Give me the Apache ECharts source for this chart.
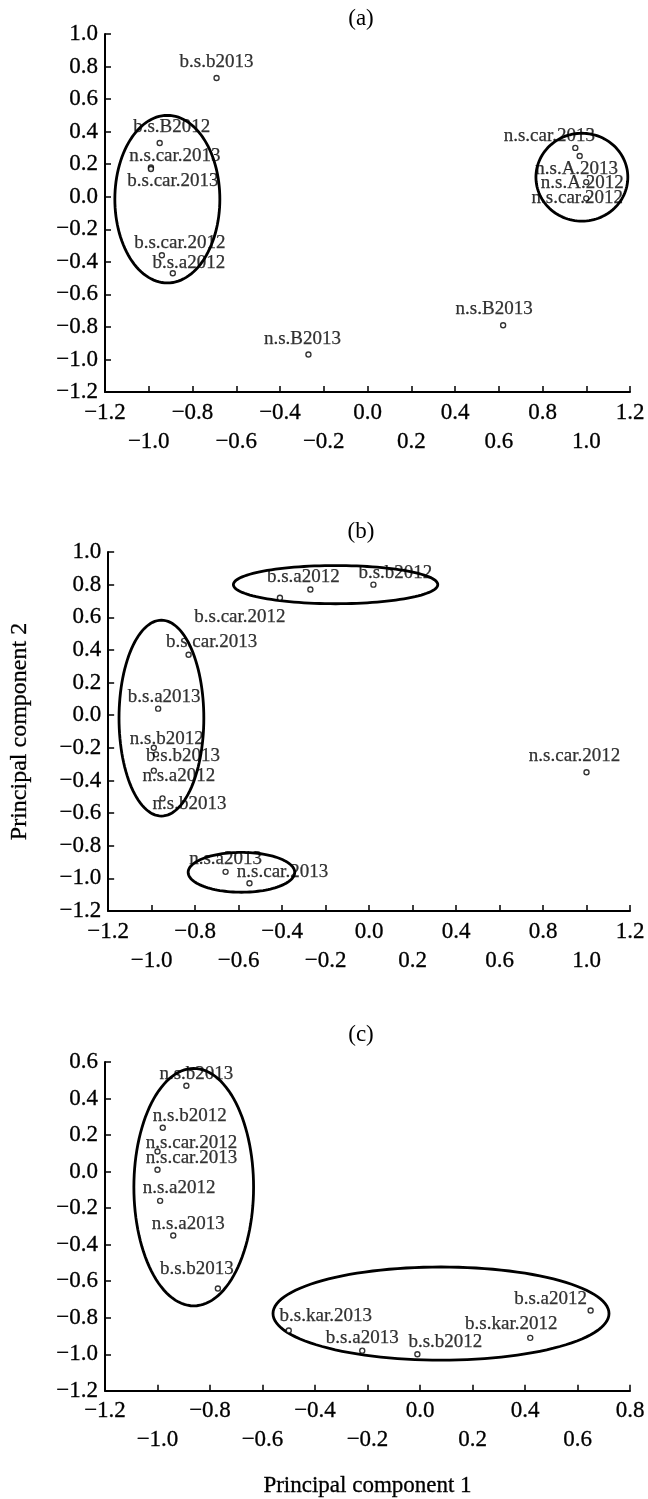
<!DOCTYPE html>
<html><head><meta charset="utf-8">
<script src="https://cdn.jsdelivr.net/npm/echarts@6/dist/echarts.min.js"></script>
<style>html,body{margin:0;padding:0;background:#fff}#c{width:648px;height:1499px}</style>
</head><body><div id="c"></div>
<script>
// ---------- Panel (a) ----------
const namesA = ['b.s.b2013','b.s.B2012','n.s.car.2013','b.s.car.2013','b.s.car.2012','b.s.a2012','n.s.B2013','n.s.B2013','n.s.car.2013','n.s.A.2013','n.s.A.2012','n.s.car.2012'];
const xA = [-0.69,-0.95,-0.99,-0.99,-0.94,-0.89,-0.27,0.62,0.95,0.97,1.00,1.00];
const yA = [0.73,0.33,0.18,0.17,-0.36,-0.47,-0.97,-0.79,0.30,0.25,0.09,-0.01];
const ellCxA = [-0.915, 0.98];
const ellCyA = [-0.015, 0.12];
const ellRxA = [0.24, 0.21];
const ellRyA = [0.515, 0.27];
const xTickLabelsA = ['−1.2','−1.0','−0.8','−0.6','−0.4','−0.2','0.0','0.2','0.4','0.6','0.8','1.0','1.2'];
const yTickLabelsA = ['−1.2','−1.0','−0.8','−0.6','−0.4','−0.2','0.0','0.2','0.4','0.6','0.8','1.0'];

// ---------- Panel (b) ----------
const namesB = ['b.s.a2012','b.s.b2012','b.s.car.2012','b.s.car.2013','b.s.a2013','n.s.b2012','b.s.b2013','n.s.a2012','n.s.b2013','n.s.car.2012','n.s.a2013','n.s.car.2013'];
const xB = [-0.27,0.02,-0.41,-0.83,-0.97,-0.99,-0.98,-0.99,-0.95,1.00,-0.66,-0.55];
const yB = [0.77,0.80,0.72,0.37,0.04,-0.20,-0.24,-0.34,-0.51,-0.35,-0.96,-1.03];
const ellCxB = [-0.154,-0.955,-0.587];
const ellCyB = [0.80,-0.018,-0.963];
const ellRxB = [0.47,0.195,0.245];
const ellRyB = [0.117,0.60,0.122];
const xTickLabelsB = xTickLabelsA;
const yTickLabelsB = yTickLabelsA;

// ---------- Panel (c) ----------
const namesC = ['n.s.b2013','n.s.b2012','n.s.car.2012','n.s.car.2013','n.s.a2012','n.s.a2013','b.s.b2013','b.s.kar.2013','b.s.a2013','b.s.b2012','b.s.kar.2012','b.s.a2012'];
const xC = [-0.89,-0.98,-1.00,-1.00,-0.99,-0.94,-0.77,-0.50,-0.22,-0.01,0.42,0.65];
const yC = [0.47,0.24,0.11,0.01,-0.16,-0.35,-0.64,-0.87,-0.98,-1.00,-0.91,-0.76];
const ellCxC = [-0.862, 0.08];
const ellCyC = [-0.085,-0.777];
const ellRxC = [0.228, 0.64];
const ellRyC = [0.65, 0.255];
const xTickLabelsC = ['−1.2','−1.0','−0.8','−0.6','−0.4','−0.2','0.0','0.2','0.4','0.6','0.8'];
const yTickLabelsC = ['−1.2','−1.0','−0.8','−0.6','−0.4','−0.2','0.0','0.2','0.4','0.6'];

// label offsets (px, label centre relative to point) – styling only
const offA = [[0,-16],[12,-16],[24,-11],[22,12],[18,-12],[16,-10],[-6,-16],[-9,-16],[-26,-12],[-3,13],[-4,1],[-9,0]];
const offB = [[-7,-13],[22,-12],[-40,19],[23,-13],[6,-12],[13,-9],[27,2],[25,5],[27,6],[-12,-16],[0,-13],[33,-11]];
const offC = [[10,-12],[27,-12],[34,-9],[34,-12],[19,-13],[15,-12],[-21,-20],[37,-15],[0,-13],[28,-12],[-19,-14],[-40,-11]];

const FONT = 'Liberation Serif';
const INK = '#000';
const grids = [
  {left:105, top:34, width:525, height:358},
  {left:105, top:552, width:525, height:359},
  {left:105, top:1062, width:525, height:332}
];

function xAxis(gi, min, max, labels){
  return {gridIndex:gi, type:'value', min, max, interval:0.2,
    axisLine:{show:true, onZero:false, lineStyle:{color:INK, width:2}},
    axisTick:{show:true, inside:true, length:6, lineStyle:{color:INK, width:1.5}},
    splitLine:{show:false},
    axisLabel:{color:INK, fontFamily:FONT, fontSize:23, margin:6, lineHeight:29,
      textBorderColor:INK, textBorderWidth:0.3,
      formatter:(v)=>{const i=Math.round((v-min)/0.2); const s=labels[i]; return i%2 ? '\n'+s : s;}}
  };
}
function yAxis(gi, min, max, labels){
  return {gridIndex:gi, type:'value', min, max, interval:0.2,
    axisLine:{show:true, onZero:false, lineStyle:{color:INK, width:2}},
    axisTick:{show:true, inside:true, length:6, lineStyle:{color:INK, width:1.5}},
    splitLine:{show:false},
    axisLabel:{color:INK, fontFamily:FONT, fontSize:23, margin:7,
      textBorderColor:INK, textBorderWidth:0.3,
      formatter:(v)=>labels[Math.round((v-min)/0.2)]}
  };
}
function scatter(gi, names, xs, ys, offs){
  return {type:'scatter', xAxisIndex:gi, yAxisIndex:gi, symbol:'circle', symbolSize:5, z:3,
    itemStyle:{color:'#fff', borderColor:INK, borderWidth:1.4},
    emphasis:{disabled:true},
    label:{show:true, position:'inside', formatter:'{b}', color:INK, fontFamily:FONT, fontSize:19,
      textBorderColor:INK, textBorderWidth:0.25, align:'center', verticalAlign:'middle'},
    data:names.map((n,i)=>({name:n, value:[xs[i], ys[i]], label:{offset:offs[i]}}))
  };
}
function ellipses(gi, cx, cy, rx, ry){
  return {type:'custom', xAxisIndex:gi, yAxisIndex:gi, silent:true, z:2, clip:false,
    data:cx.map((v,i)=>[v, cy[i], rx[i], ry[i]]),
    encode:{x:0, y:1},
    renderItem:(params, api)=>{
      const c = api.coord([api.value(0), api.value(1)]);
      const s = api.size([api.value(2), api.value(3)]);
      const pts = [];
      for (let k=0;k<120;k++){const t=k/120*2*Math.PI; pts.push([c[0]+s[0]*Math.cos(t), c[1]+s[1]*Math.sin(t)]);}
      return {type:'polygon', shape:{points:pts}, style:{fill:null, stroke:INK, lineWidth:2.8}};
    }
  };
}

const chart = echarts.init(document.getElementById('c'), null, {renderer:'canvas'});
const yB_axis = yAxis(1, -1.2, 1.0, yTickLabelsB);
yB_axis.name = 'Principal component 2';
yB_axis.nameLocation = 'middle';
yB_axis.nameGap = 76;
yB_axis.nameTextStyle = {color:INK, fontFamily:FONT, fontSize:24, textBorderColor:INK, textBorderWidth:0.3};
const xC_axis = xAxis(2, -1.2, 0.8, xTickLabelsC);
xC_axis.name = 'Principal component 1';
xC_axis.nameLocation = 'middle';
xC_axis.nameGap = 84;
xC_axis.nameTextStyle = {color:INK, fontFamily:FONT, fontSize:23, textBorderColor:INK, textBorderWidth:0.3};

const titleFont = '23px "Liberation Serif"';
chart.setOption({
  animation:false,
  backgroundColor:'#fff',
  grid:grids,
  xAxis:[xAxis(0,-1.2,1.2,xTickLabelsA), xAxis(1,-1.2,1.2,xTickLabelsB), xC_axis],
  yAxis:[yAxis(0,-1.2,1.0,yTickLabelsA), yB_axis, yAxis(2,-1.2,0.6,yTickLabelsC)],
  graphic:[
    {type:'text', x:361, y:19, style:{text:'(a)', font:titleFont, fill:INK, textAlign:'center', textVerticalAlign:'middle'}},
    {type:'text', x:361, y:532, style:{text:'(b)', font:titleFont, fill:INK, textAlign:'center', textVerticalAlign:'middle'}},
    {type:'text', x:361, y:1035, style:{text:'(c)', font:titleFont, fill:INK, textAlign:'center', textVerticalAlign:'middle'}}
  ],
  series:[
    ellipses(0, ellCxA, ellCyA, ellRxA, ellRyA), scatter(0, namesA, xA, yA, offA),
    ellipses(1, ellCxB, ellCyB, ellRxB, ellRyB), scatter(1, namesB, xB, yB, offB),
    ellipses(2, ellCxC, ellCyC, ellRxC, ellRyC), scatter(2, namesC, xC, yC, offC)
  ]
});
</script></body></html>
